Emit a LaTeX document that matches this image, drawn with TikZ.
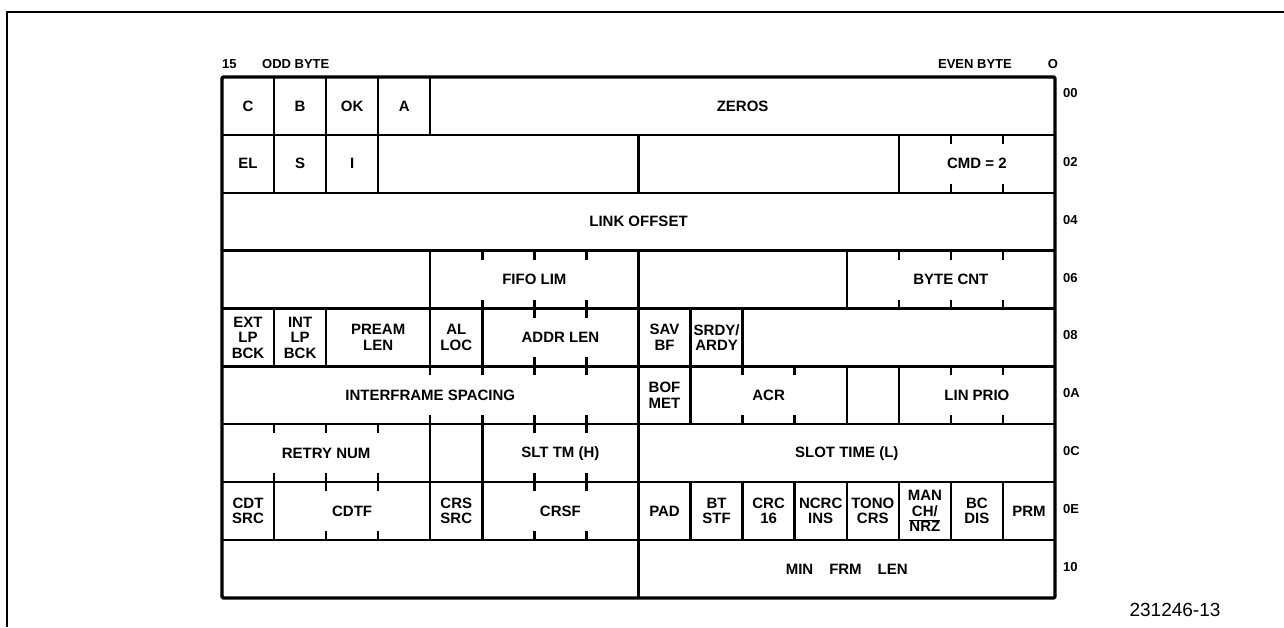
\documentclass[tikz,border=0pt]{standalone}
\usepackage{fontspec}
\setmainfont{Liberation Sans}
\usetikzlibrary{positioning,calc}

\begin{document}
\begin{tikzpicture}[x=1pt,y=-1pt,
  every node/.style={align=center, inner sep=0pt, font=\fontsize{15}{15.5}\selectfont\bfseries},
  cellline/.style={line width=2.4pt, line join=round},
  bittick/.style={line width=2.4pt},
  hdr/.style={font=\fontsize{13}{13}\selectfont\bfseries},
  offlabel/.style={anchor=west, font=\fontsize{13}{13}\selectfont\bfseries}
]
\def\bitw{52.0625}
\def\rowh{57.875}
\useasboundingbox (0,0) rectangle (1284,627);

% outer frame
\draw[line width=2pt] (1284,12) -- (7,12) -- (7,627);

% fields: row / first bit column / last bit column / text
\foreach \r/\a/\b/\t in {
  0/0/1/C, 0/1/2/B, 0/2/3/OK, 0/3/4/A, 0/4/16/ZEROS,
  1/0/1/EL, 1/1/2/S, 1/2/3/I, 1/3/8/{}, 1/8/13/{}, 1/13/16/{CMD = 2},
  2/0/16/{LINK OFFSET},
  3/0/4/{}, 3/4/8/{FIFO LIM}, 3/8/12/{}, 3/12/16/{BYTE CNT},
  4/0/1/{EXT\\LP\\BCK}, 4/1/2/{INT\\LP\\BCK}, 4/2/4/{PREAM\\LEN}, 4/4/5/{AL\\LOC},
  4/5/8/{ADDR LEN}, 4/8/9/{SAV\\BF}, 4/9/10/{SRDY\slash\\ARDY}, 4/10/16/{},
  5/0/8/{INTERFRAME SPACING}, 5/8/9/{BOF\\MET}, 5/9/12/ACR, 5/12/13/{}, 5/13/16/{LIN PRIO},
  6/0/4/{RETRY NUM}, 6/4/5/{}, 6/5/8/{SLT TM (H)}, 6/8/16/{SLOT TIME (L)},
  7/0/1/{CDT\\SRC}, 7/1/4/CDTF, 7/4/5/{CRS\\SRC}, 7/5/8/CRSF, 7/8/9/PAD,
  7/9/10/{BT\\STF}, 7/10/11/{CRC\\16}, 7/11/12/{NCRC\\INS}, 7/12/13/{TONO\\CRS},
  7/13/14/{MAN\\CH\slash\\$\overline{\mbox{NRZ}}$}, 7/14/15/{BC\\DIS}, 7/15/16/PRM,
  8/0/8/{}, 8/8/16/{MIN\hspace{16pt}FRM\hspace{16pt}LEN}} {
  \draw[cellline] ({222+\a*\bitw},{77+\r*\rowh}) rectangle ({222+\b*\bitw},{77+(\r+1)*\rowh});
  \node (f\r-\a) at ({222+(\a+\b)/2*\bitw},{77+(\r+0.5)*\rowh}) {\t};
}

% bit ticks inside multi-bit fields
\foreach \r/\i in {1/14, 1/15, 3/5, 3/6, 3/7, 3/13, 3/14, 3/15, 4/6, 4/7,
  5/4, 5/5, 5/6, 5/7, 5/10, 5/11, 5/14, 5/15, 6/1, 6/2, 6/3, 6/6, 6/7,
  7/2, 7/3, 7/6, 7/7} {
  \draw[bittick] ({222+\i*\bitw},{77+\r*\rowh}) -- ++(0,9);
  \draw[bittick] ({222+\i*\bitw},{77+(\r+1)*\rowh}) -- ++(0,-9);
}

% register border
\draw[line width=3.2pt, rounded corners=1.5pt] (222,77) rectangle (1055,598);

% byte headers
\node[hdr, anchor=base west] (hibit) at (222,68) {15};
\node[hdr, anchor=base west] (oddbyte) at (262,68) {ODD BYTE};
\node[hdr, anchor=base east] (evenbyte) at (1012,68) {EVEN BYTE};
\node[hdr, anchor=base] (lobit) at (1053,68) {O};

% word offsets
\node[offlabel] (off0) at (1063,93) {00};
\foreach \r/\t in {1/02, 2/04, 3/06, 4/08, 5/0A, 6/0C, 7/0E, 8/10}
  \node[offlabel] (off\r) at (1063,{77+(\r+0.5)*\rowh-2}) {\t};

\node[font=\fontsize{19}{19}\selectfont] (figno) at (1175,610) {231246-13};
\end{tikzpicture}
\end{document}
